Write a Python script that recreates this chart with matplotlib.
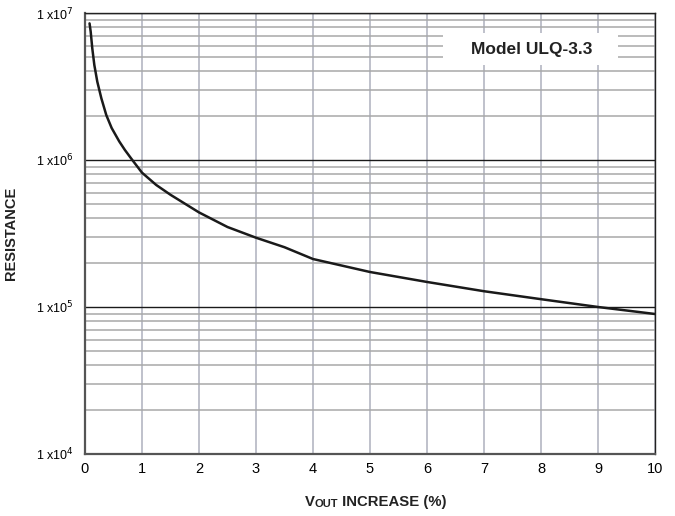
import numpy as np
import matplotlib.pyplot as plt
from matplotlib import ticker
from matplotlib.patches import Rectangle

plt.rcParams['font.family'] = ['Liberation Sans', 'DejaVu Sans']

# resistance vs. output voltage increase
vout = [0.08, 0.1, 0.128, 0.164, 0.216, 0.287, 0.374, 0.468, 0.6, 0.7, 0.83, 1.0, 1.25,
        1.5, 2.0, 2.5, 3.0, 3.5, 4.0, 5.0, 6.0, 7.0, 8.0, 9.0, 10.0]
res = [8.5e6, 7.47e6, 5.75e6, 4.43e6, 3.41e6, 2.63e6, 2.02e6, 1.65e6, 1.34e6, 1.17e6,
       1.0e6, 8.2e5, 6.76e5, 5.8e5, 4.4e5, 3.5e5, 2.96e5, 2.55e5, 2.12e5, 1.73e5,
       1.48e5, 1.28e5, 1.13e5, 1.0e5, 8.96e4]
xticks = list(range(0, 11))
ydecades = [1e4, 1e5, 1e6, 1e7]
ylabels = [r'1 x10$^{4}$', r'1 x10$^{5}$', r'1 x10$^{6}$', r'1 x10$^{7}$']

fig = plt.figure(figsize=(6.75, 5.16), dpi=100)
ax = fig.add_axes([0.1259, 0.1202, 0.8445, 0.8546])
ax.set_yscale('log')
ax.set_xlim(0, 10)
ax.set_ylim(1e4, 1e7)

ax.xaxis.set_major_locator(ticker.FixedLocator(xticks))
ax.set_xticklabels([str(v) for v in xticks], fontsize=10.5)
ax.yaxis.set_major_locator(ticker.FixedLocator(ydecades))
ax.set_yticklabels(ylabels, fontsize=9)
ax.yaxis.set_minor_locator(ticker.LogLocator(base=10, subs=np.arange(2, 10)))
ax.yaxis.set_minor_formatter(ticker.NullFormatter())
ax.tick_params(which='both', length=0)
ax.tick_params(axis='x', pad=6)
ax.tick_params(axis='y', pad=8)

ax.grid(axis='x', which='major', color='#b4b6c2', lw=1.2)
ax.grid(axis='y', which='minor', color='#a8a8a8', lw=1.1)
ax.grid(axis='y', which='major', color='#1a1a1a', lw=1.0)
ax.set_axisbelow(True)

for side in ['left', 'bottom']:
    ax.spines[side].set_color('#555555')
    ax.spines[side].set_linewidth(1.6)
for side in ['top', 'right']:
    ax.spines[side].set_color('#222222')
    ax.spines[side].set_linewidth(1.0)

ax.plot(vout, res, color='#1a1a1a', lw=1.8, solid_capstyle='round', solid_joinstyle='round')

# model label on a white patch over the grid
ax.add_patch(Rectangle((0.628, 0.882), 0.307, 0.073, transform=ax.transAxes,
                       facecolor='white', edgecolor='none', zorder=4))
ax.text(0.784, 0.918, 'Model ULQ-3.3', transform=ax.transAxes, ha='center', va='center',
        fontsize=12.5, fontweight='bold', color='#222222', zorder=5)

ax.set_ylabel('RESISTANCE', fontsize=10.5, fontweight='bold', color='#222222', labelpad=13)

# x label with small-caps "OUT"
t1 = fig.text(0.452, 0.02, 'V', fontsize=10.7, fontweight='bold', color='#222222')
t2 = ax.annotate('OUT', xy=(1, 0), xycoords=t1, va='bottom', fontsize=8,
                 fontweight='bold', color='#222222')
ax.annotate(' INCREASE (%)', xy=(1, 0), xycoords=t2, va='bottom', fontsize=10.7,
            fontweight='bold', color='#222222')

fig.savefig('out.png', dpi=100)
